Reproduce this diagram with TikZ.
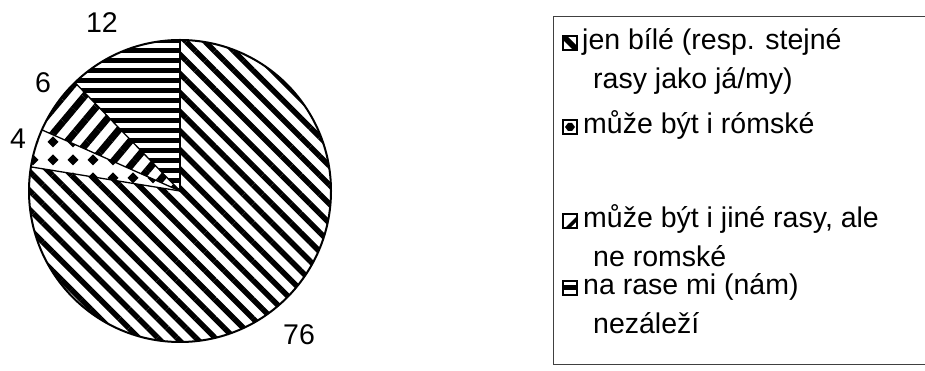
\documentclass[tikz,border=0pt]{standalone}
\usepackage{fontspec}
\setmainfont{Liberation Sans}
\usetikzlibrary{patterns.meta}
\begin{document}
\begin{tikzpicture}[x=1pt,y=1pt,
  lbl/.style={font=\fontsize{28.5}{34}\selectfont, inner sep=0pt, anchor=base},
  leg/.style={font=\fontsize{28.5}{34}\selectfont, inner sep=0pt, anchor=base west},
  sep/.style={line width=1.3pt, line join=round},
  rim/.style={line width=2pt},
  iconbox/.style={line width=1.8pt},
  boxline/.style={line width=1pt, black!75}]
\fill[white] (0,0) rectangle (925,371);
\useasboundingbox (0,0) rectangle (925,371);
\coordinate (C) at (180,180);
\def\R{151}
% 76 slice
\fill[pattern={Lines[angle=-45,distance=13.5pt,line width=5.5pt]}]
  (C) -- ++(90:\R) arc[start angle=90,end angle=-189.18,radius=\R] -- cycle;
% 12 slice
\fill[pattern={Lines[angle=0,distance=10pt,line width=5pt]}]
  (C) -- ++(90:\R) arc[start angle=90,end angle=134.09,radius=\R] -- cycle;
% 6 slice
\fill[pattern={Lines[angle=50,distance=16pt,line width=7pt]}]
  (C) -- ++(134.09:\R) arc[start angle=134.09,end angle=156.13,radius=\R] -- cycle;
% 4 slice (diamonds)
\begin{scope}
  \clip (C) -- ++(156.13:\R) arc[start angle=156.13,end angle=170.82,radius=\R] -- cycle;
  \foreach \i in {0,...,8}{
    \foreach \j in {0,...,4}{
      \fill ({13+20*\i},{157+18*\j}) +(-5.5,0) -- +(0,5.5) -- +(5.5,0) -- +(0,-5.5) -- cycle;
    }
  }
\end{scope}
% separators and rim
\draw[sep] (C) -- ++(90:\R);
\draw[sep] (C) -- ++(134.09:\R);
\draw[sep] (C) -- ++(156.13:\R);
\draw[sep] (C) -- ++(170.82:\R);
\draw[rim] (C) circle[radius=\R];
% pie labels
\node[lbl] (n12) at (102,338) {12};
\node[lbl] (n6) at (43,278) {6};
\node[lbl] (n4) at (18,222) {4};
\node[lbl] (n76) at (299,26) {76};
% legend box
\draw[boxline] (927,354) -- (553,354) -- (553,6) -- (927,6);
% legend icons
\fill[white] (563,321) rectangle (577,335);
\fill (563,335) -- (567,335) -- (577,325) -- (577,321) -- (573,321) -- (563,331) -- cycle;
\draw[iconbox] (563,321) rectangle (577,335);
\fill (570,244) +(-5,0) -- +(-2,4) -- +(2,4) -- +(5,0) -- +(2,-4) -- +(-2,-4) -- cycle;
\draw[iconbox] (563,237) rectangle (577,251);
\fill (565,143) -- (577,155) -- (577,150) -- (570,143) -- cycle;
\draw[iconbox] (563,143) rectangle (577,157);
\fill (563,80.5) rectangle (577,86);
\draw[iconbox] (563,76) rectangle (577,90);
% legend texts
\node[leg] (t1a) at (582,321) {jen bílé (resp. stejné};
\node[leg] (t1b) at (593,282) {rasy jako já/my)};
\node[leg] (t2) at (583,237) {může být i rómské};
\node[leg] (t3a) at (583,143) {může být i jiné rasy, ale};
\node[leg] (t3b) at (593,104) {ne romské};
\node[leg] (t4a) at (583,76) {na rase mi (nám)};
\node[leg] (t4b) at (593,37) {nezáleží};
\end{tikzpicture}
\end{document}
